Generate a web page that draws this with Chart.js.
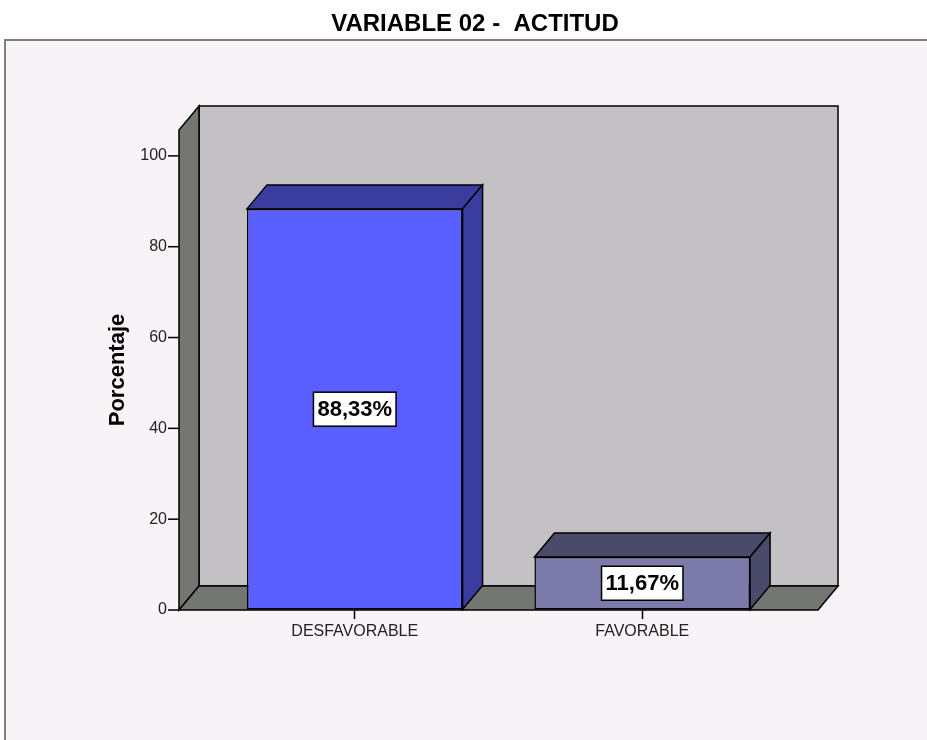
<!DOCTYPE html>
<html><head><meta charset="utf-8">
<script src="https://cdn.jsdelivr.net/npm/chart.js@4/dist/chart.umd.min.js"></script>
<style>html,body{margin:0;padding:0;background:#fff;}canvas{display:block;}</style>
</head><body>
<canvas id="c" width="927" height="740"></canvas>
<script>
const chartTitle = 'VARIABLE 02 -  ACTITUD';
const yAxisTitle = 'Porcentaje';
const categories = ['DESFAVORABLE', 'FAVORABLE'];
const percentages = [88.33, 11.67];
const valueLabels = ['88,33%', '11,67%'];
const yTickValues = [0, 20, 40, 60, 80, 100];
const yAxisMax = 105.7;
const frontColors = ['#5a5fff', '#7b7aa9'];
const shadeColors = ['#3a3d9d', '#4a4a6b'];

const DX = 20, DY = 24, WALL_EXT = 32;
const FONT = '"Liberation Sans", Arial, sans-serif';

function poly(ctx, pts, fill) {
  ctx.beginPath();
  ctx.moveTo(pts[0][0], pts[0][1]);
  for (let i = 1; i < pts.length; i++) ctx.lineTo(pts[i][0], pts[i][1]);
  ctx.closePath();
  ctx.fillStyle = fill; ctx.fill();
  ctx.strokeStyle = '#000'; ctx.lineWidth = 1.5; ctx.lineJoin = 'miter'; ctx.stroke();
}

const framePlugin = {
  id: 'frame',
  beforeDraw(chart) {
    const ctx = chart.ctx;
    ctx.save();
    ctx.fillStyle = '#ffffff'; ctx.fillRect(0, 0, chart.width, chart.height);
    ctx.fillStyle = '#f7f3f7'; ctx.fillRect(5, 40, chart.width - 5, chart.height - 40);
    ctx.strokeStyle = '#7f7f7f'; ctx.lineWidth = 2;
    ctx.beginPath(); ctx.moveTo(5, chart.height); ctx.lineTo(5, 40); ctx.lineTo(chart.width, 40); ctx.stroke();
    ctx.fillStyle = '#000'; ctx.font = 'bold 24px ' + FONT;
    ctx.textAlign = 'center'; ctx.textBaseline = 'middle';
    ctx.fillText(chartTitle, 475, 24);
    ctx.restore();
  }
};

const wallsPlugin = {
  id: 'walls',
  beforeDatasetsDraw(chart) {
    const ctx = chart.ctx, y = chart.scales.y, ca = chart.chartArea;
    const wTop = y.getPixelForValue(y.max), wBot = y.getPixelForValue(0);
    const L = ca.left - WALL_EXT, R = ca.right + WALL_EXT;
    ctx.save();
    poly(ctx, [[L + DX, wTop - DY], [R + DX, wTop - DY], [R + DX, wBot - DY], [L + DX, wBot - DY]], '#c3c1c4');
    poly(ctx, [[L, wTop], [L + DX, wTop - DY], [L + DX, wBot - DY], [L, wBot]], '#737671');
    poly(ctx, [[L, wBot], [R, wBot], [R + DX, wBot - DY], [L + DX, wBot - DY]], '#737671');
    ctx.restore();
  },
  afterDatasetsDraw(chart) {
    const ctx = chart.ctx;
    const meta = chart.getDatasetMeta(0);
    ctx.save();
    meta.data.forEach((bar, i) => {
      const p = bar.getProps(['x', 'y', 'base', 'width'], true);
      const l = p.x - p.width / 2, r = p.x + p.width / 2;
      poly(ctx, [[l, p.y], [r, p.y], [r + DX, p.y - DY], [l + DX, p.y - DY]], shadeColors[i]);
      poly(ctx, [[r, p.y], [r + DX, p.y - DY], [r + DX, p.base - DY], [r, p.base]], shadeColors[i]);
      ctx.font = 'bold 22px ' + FONT;
      const tw = ctx.measureText(valueLabels[i]).width;
      const cy = (p.y + p.base) / 2;
      const bw = tw + 8, bh = 34;
      ctx.fillStyle = '#fff';
      ctx.fillRect(p.x - bw / 2, cy - bh / 2, bw, bh);
      ctx.strokeStyle = '#000'; ctx.lineWidth = 1.5;
      ctx.strokeRect(p.x - bw / 2, cy - bh / 2, bw, bh);
      ctx.fillStyle = '#000'; ctx.textAlign = 'center'; ctx.textBaseline = 'middle';
      ctx.fillText(valueLabels[i], p.x, cy + 1);
    });
    ctx.restore();
  },
  afterDraw(chart) {
    const ctx = chart.ctx, y = chart.scales.y, ca = chart.chartArea;
    const L = ca.left - WALL_EXT;
    ctx.save();
    ctx.strokeStyle = '#000'; ctx.lineWidth = 1.5;
    y.ticks.forEach((t, i) => {
      const py = y.getPixelForTick(i);
      ctx.beginPath(); ctx.moveTo(L - 11, py); ctx.lineTo(L, py); ctx.stroke();
    });
    ctx.restore();
  }
};

new Chart(document.getElementById('c'), {
  type: 'bar',
  data: {
    labels: categories,
    datasets: [{
      data: percentages,
      backgroundColor: frontColors,
      borderColor: '#000',
      borderWidth: 1.5,
      borderSkipped: false,
      barPercentage: 0.75,
      categoryPercentage: 1
    }]
  },
  options: {
    responsive: false,
    devicePixelRatio: 1,
    animation: false,
    layout: { padding: { left: 100, right: 141, top: 130, bottom: 100 } },
    plugins: { legend: { display: false }, title: { display: false }, tooltip: { enabled: false } },
    scales: {
      x: {
        offset: true,
        grid: { display: true, drawOnChartArea: false, offset: false, tickLength: 9, tickColor: '#000', tickWidth: 1.5 },
        border: { display: false },
        ticks: { font: { size: 16, family: FONT }, color: '#222', padding: 3, maxRotation: 0, autoSkip: false },
        afterFit(s) { s.height = 30; }
      },
      y: {
        min: 0, max: yAxisMax,
        afterBuildTicks(s) { s.ticks = yTickValues.map(v => ({ value: v })); },
        ticks: { font: { size: 16, family: FONT }, color: '#222', padding: 0 },
        grid: { display: true, drawOnChartArea: false, tickLength: 44, tickColor: 'rgba(0,0,0,0)' },
        border: { display: false },
        title: { display: true, text: yAxisTitle, font: { size: 22, weight: 'bold', family: FONT }, color: '#000', padding: { top: 5, bottom: 0 } },
        afterFit(s) { s.width = 111; }
      }
    }
  },
  plugins: [framePlugin, wallsPlugin]
});
</script>
</body></html>
